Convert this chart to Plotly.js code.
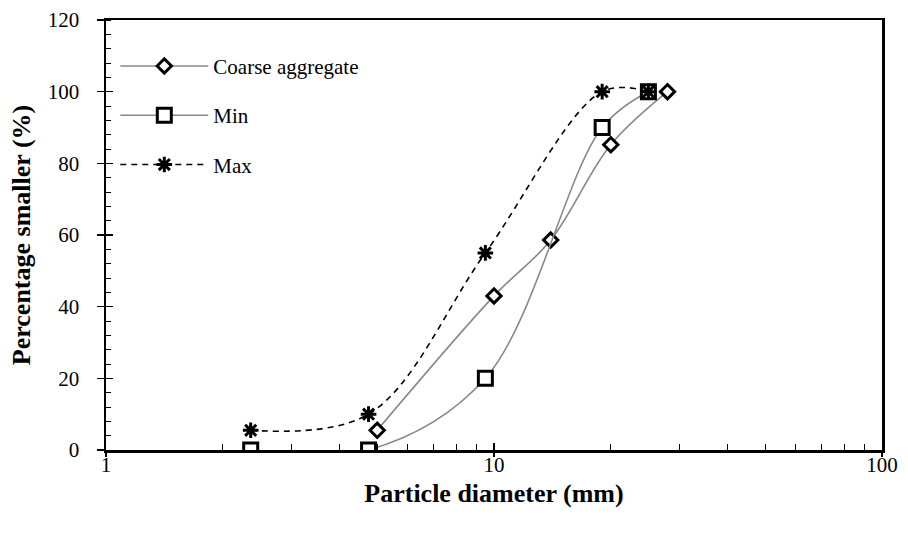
<!DOCTYPE html>
<html><head><meta charset="utf-8">
<script src="https://cdn.plot.ly/plotly-3.0.1.min.js"></script>
<style>html,body{margin:0;padding:0;background:#fff}#c{width:908px;height:536px}</style>
</head><body><div id="c"></div>
<script>
const coarseX = [5, 10, 14, 20, 28];
const coarseY = [5.5, 43, 58.6, 85.2, 100];
const minX = [2.36, 4.75, 9.5, 19, 25];
const minY = [0, 0, 20, 90, 100];
const maxX = [2.36, 4.75, 9.5, 19, 25];
const maxY = [5.5, 10, 55, 100, 100];
const names = ['Coarse aggregate', 'Min', 'Max'];
const xTickVals = [1, 10, 100];
const xMinorVals = [2, 3, 4, 5, 6, 7, 8, 9, 20, 30, 40, 50, 60, 70, 80, 90];
const yTickVals = [0, 20, 40, 60, 80, 100, 120];

const FONT = 'Liberation Serif, Times New Roman, serif';
const gray = '#888888';

const traces = [
  {x: coarseX, y: coarseY, name: names[0], mode: 'lines+markers', legendgroup: 'a',
   line: {color: gray, width: 1.6, shape: 'spline', smoothing: 1},
   marker: {symbol: 'diamond', size: 11, color: '#fff', line: {color: '#000', width: 3}}},
  {x: minX, y: minY, name: names[1], mode: 'lines+markers', legendgroup: 'b',
   line: {color: gray, width: 1.6, shape: 'spline', smoothing: 1},
   marker: {symbol: 'square', size: 14, color: '#fff', line: {color: '#000', width: 3}}},
  {x: maxX, y: maxY, name: names[2], mode: 'lines+markers', legendgroup: 'c',
   line: {color: '#000', width: 1.6, dash: '6px,5px', shape: 'spline', smoothing: 1},
   marker: {symbol: 'asterisk-open', size: 13, color: '#000', line: {color: '#000', width: 3}}},
  {x: [1, 100], y: [0, 120], xaxis: 'x2', yaxis: 'y2', mode: 'markers', showlegend: false,
   marker: {opacity: 0}, hoverinfo: 'skip'}
];

const layout = {
  width: 908, height: 536,
  margin: {l: 106, r: 26, t: 20, b: 86},
  paper_bgcolor: '#fff', plot_bgcolor: '#fff',
  font: {family: FONT, size: 21, color: '#000'},
  showlegend: true,
  legend: {x: 0.012, y: 0.94, xanchor: 'left', yanchor: 'top', bgcolor: 'rgba(0,0,0,0)',
           font: {family: FONT, size: 21, color: '#000'}, itemwidth: 88,
           traceorder: 'grouped', tracegroupgap: 19},
  xaxis: {type: 'log', range: [0, 2], tickvals: xTickVals, ticktext: ['1', '10', '100'],
          ticks: 'inside', ticklen: 7, tickwidth: 1.5, tickcolor: '#000',
          ticklabelstandoff: -6,
          showline: true, linecolor: '#000', linewidth: 2.5, mirror: true,
          showgrid: false, zeroline: false,
          tickfont: {family: FONT, size: 21},
          minor: {ticks: 'inside', ticklen: 6, tickwidth: 1, tickcolor: '#000',
                  tickvals: xMinorVals, showgrid: false},
          title: {text: '<b>Particle diameter (mm)</b>', standoff: 8, font: {family: FONT, size: 26}}},
  yaxis: {range: [0, 120], tickvals: yTickVals,
          ticks: 'outside', ticklen: 7, tickwidth: 1.5, tickcolor: '#000',
          ticklabelstandoff: 13,
          showline: true, linecolor: '#000', linewidth: 2.5, mirror: true,
          showgrid: false, zeroline: false,
          tickfont: {family: FONT, size: 21},
          minor: {ticks: 'inside', ticklen: 5, tickwidth: 1, tickcolor: '#000', dtick: 4, showgrid: false},
          title: {text: '<b>Percentage smaller (%)</b>', standoff: 10, font: {family: FONT, size: 26}}},
  xaxis2: {type: 'log', range: [0, 2], overlaying: 'x', side: 'bottom', anchor: 'y', tickvals: xTickVals, showticklabels: false,
           ticks: 'outside', ticklen: 6, tickwidth: 1.5, tickcolor: '#000', showgrid: false, zeroline: false, showline: false},
  yaxis2: {range: [0, 120], overlaying: 'y', tickvals: yTickVals, showticklabels: false,
           ticks: 'inside', ticklen: 7, tickwidth: 1.5, tickcolor: '#000', showgrid: false, zeroline: false, showline: false}
};

Plotly.newPlot('c', traces, layout, {displayModeBar: false, staticPlot: true});
</script></body></html>
